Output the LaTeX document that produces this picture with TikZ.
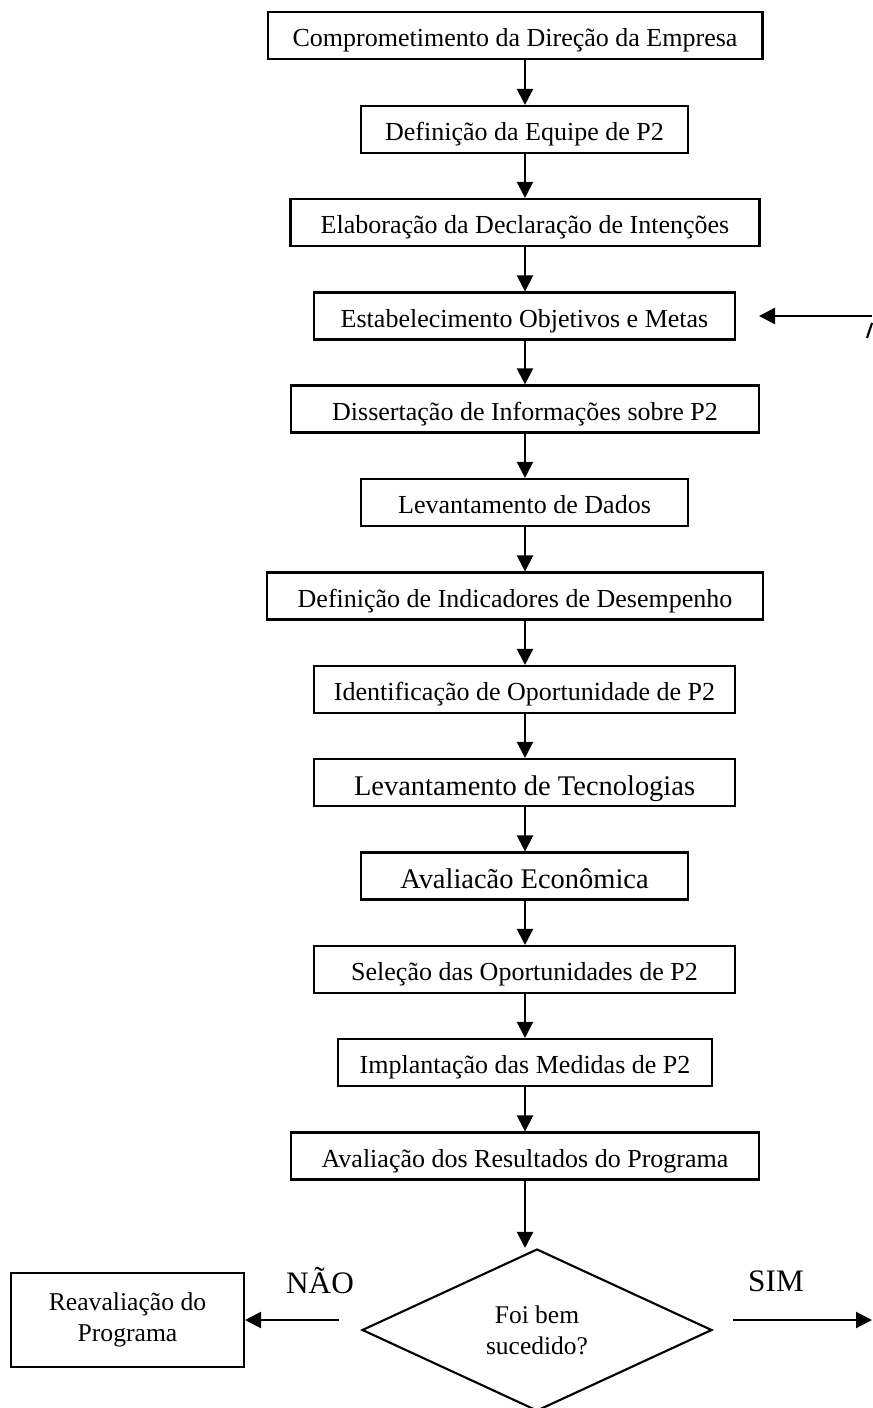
\documentclass[tikz,border=0pt]{standalone}
\usepackage{fontspec}
\setmainfont{Liberation Serif}
\usetikzlibrary{arrows.meta,shapes.geometric}

\tikzset{
  stage/.style={draw, line width=1.2pt, rectangle, inner sep=0pt, minimum height=0.94cm,
    text height=13pt, text depth=0pt, font=\fontsize{14.8}{17}\selectfont},
  bigstage/.style={stage, text height=14.5pt, font=\fontsize{16.2}{18}\selectfont},
  flow/.style={line width=1.2pt, -{Triangle[length=0.32cm,width=0.32cm]}},
  answer/.style={font=\fontsize{17.8}{20}\selectfont}
}

\begin{document}
\begin{tikzpicture}[x=0.02cm, y=-0.02cm]
        \useasboundingbox (0,0) rectangle (872,1408);
        \coordinate (spine) at (525,0);

        \node[stage, minimum width=9.9cm]  (compr) at (515,35.5)   {Comprometimento da Direção da Empresa};
        \node[stage, minimum width=6.54cm] (equipe) at (524.5,129.5) {Definição da Equipe de P2};
        \node[stage, minimum width=9.38cm] (declar) at (525,222.5) {Elaboração da Declaração de Intenções};
        \node[stage, minimum width=8.42cm] (metas) at (524.5,316) {Estabelecimento Objetivos e Metas};
        \node[stage, minimum width=9.36cm] (dissert) at (525,409) {Dissertação de Informações sobre P2};
        \node[stage, minimum width=6.54cm] (dados) at (524.5,502.5) {Levantamento de Dados};
        \node[stage, minimum width=9.92cm] (indic) at (515,596) {Definição de Indicadores de Desempenho};
        \node[stage, minimum width=8.42cm] (oport) at (524.5,689.5) {Identificação de Oportunidade de P2};
        \node[bigstage, minimum width=8.42cm] (tecno) at (524.5,782.5) {Levantamento de Tecnologias};
        \node[bigstage, minimum width=6.54cm] (econ) at (524.5,876) {Avaliacão Econômica};
        \node[stage, minimum width=8.42cm] (selec) at (524.5,969.5) {Seleção das Oportunidades de P2};
        \node[stage, minimum width=7.48cm] (impl) at (525,1062.5) {Implantação das Medidas de P2};
        \node[stage, minimum width=9.36cm] (result) at (525,1156) {Avaliação dos Resultados do Programa};

        \node[draw, line width=1.2pt, diamond, inner sep=0pt, minimum width=7cm, minimum height=3.24cm,
              align=center, font=\fontsize{14.5}{17.5}\selectfont] (sucesso) at (537,1330) {Foi bem\\sucedido?};
        \node[draw, line width=1.2pt, inner sep=0pt, minimum width=4.66cm, minimum height=1.88cm, align=center,
              font=\fontsize{14.6}{17.5}\selectfont] (reaval) at (127.5,1320) {Reavaliação do\\Programa};

        \foreach \a/\b in {compr/equipe, equipe/declar, declar/metas, metas/dissert, dissert/dados,
                           dados/indic, indic/oport, oport/tecno, tecno/econ, econ/selec,
                           selec/impl, impl/result}
            \draw[flow] (\a.south -| spine) -- (\b.north -| spine);
        \draw[flow] (result.south -| spine) -- (sucesso.north -| spine);

        % return arrow from the right edge
        \coordinate (volta) at (872,316);
        \draw[flow] (volta) -- (759,316);
        \draw[line width=1.2pt] (867,338) -- (872,323);

        % outcomes
        \coordinate (naoIni) at (339,1320);
        \coordinate (simIni) at (733,1320);
        \coordinate (simFim) at (872,1320);
        \draw[flow] (naoIni) -- (reaval.east);
        \draw[flow] (simIni) -- (simFim);
        \node[answer] (nao) at (320,1281) {NÃO};
        \node[answer] (sim) at (776,1281) {SIM};
\end{tikzpicture}
\end{document}
